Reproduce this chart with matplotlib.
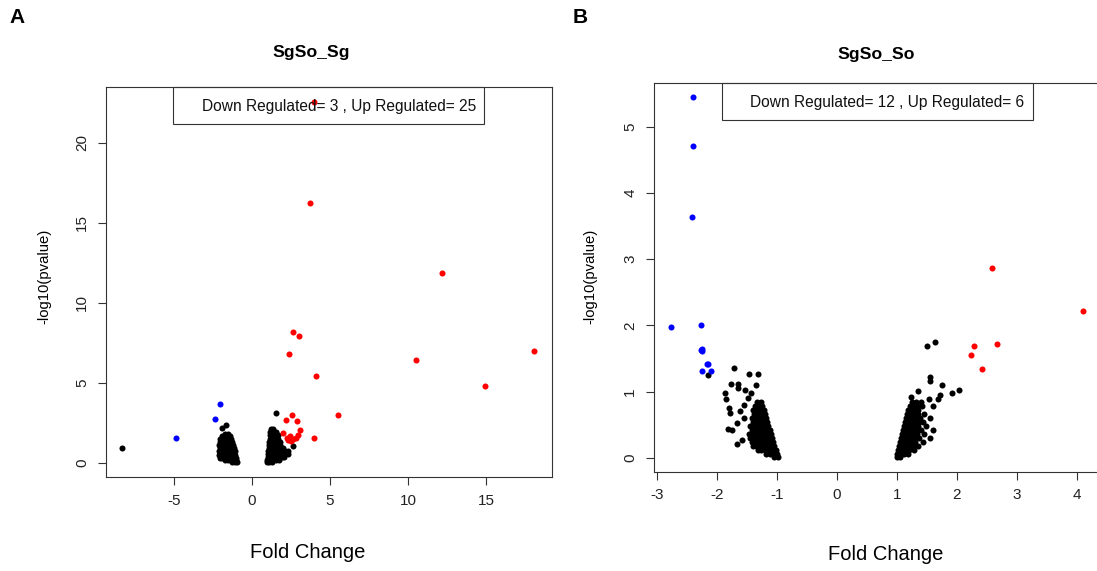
import matplotlib
matplotlib.use("Agg")
import matplotlib.pyplot as plt
from matplotlib.patches import Rectangle

plt.rcParams['font.family'] = ['Liberation Sans', 'DejaVu Sans']
plt.rcParams['axes.unicode_minus'] = False

# ---------------- Panel A data (SgSo_Sg) ----------------
a_title = "SgSo_Sg"
a_legend = "Down Regulated= 3 , Up Regulated= 25"
a_xticks = [-5, 0, 5, 10, 15]
a_yticks = [0, 5, 10, 15, 20]

# black (not significant) points, grouped in rows: (y, [x values])
a_black_left_rows = [
    (0.02, [-0.96, -1.12, -1.28]),
    (0.15, [-1.00, -1.18, -1.36, -1.54, -1.72]),
    (0.32, [-1.04, -1.22, -1.40, -1.58, -1.76, -1.94, -2.08]),
    (0.50, [-1.08, -1.26, -1.44, -1.62, -1.80, -1.98, -2.12]),
    (0.70, [-1.12, -1.30, -1.48, -1.66, -1.84, -2.02, -2.12]),
    (0.90, [-1.18, -1.36, -1.54, -1.72, -1.90, -2.08]),
    (1.10, [-1.24, -1.42, -1.60, -1.78, -1.96, -2.10]),
    (1.30, [-1.30, -1.48, -1.66, -1.84, -2.02]),
    (1.50, [-1.36, -1.54, -1.72, -1.90, -2.02]),
    (1.68, [-1.42, -1.60, -1.78, -1.94]),
    (1.82, [-1.55, -1.72]),
    (2.15, [-1.94]),
    (2.35, [-1.67]),
    (0.90, [-8.31]),
]
a_black_right_rows = [
    (0.03, [0.96, 1.12, 1.28]),
    (0.18, [0.98, 1.16, 1.34, 1.52, 1.70]),
    (0.35, [1.00, 1.18, 1.36, 1.54, 1.72, 1.90, 2.05]),
    (0.52, [1.02, 1.20, 1.38, 1.56, 1.74, 1.92, 2.10, 2.30]),
    (0.70, [1.04, 1.22, 1.40, 1.58, 1.76, 1.94, 2.12, 2.30]),
    (0.90, [1.06, 1.24, 1.42, 1.60, 1.78, 1.96]),
    (1.10, [1.08, 1.26, 1.44, 1.62, 1.80]),
    (1.30, [1.10, 1.28, 1.46, 1.64, 1.80]),
    (1.50, [1.13, 1.31, 1.49, 1.67]),
    (1.70, [1.15, 1.33, 1.51, 1.69]),
    (1.90, [1.18, 1.36, 1.52]),
    (2.10, [1.20, 1.36]),
    (1.04, [2.65]),
    (3.09, [1.52]),
]
a_blue_x = [-4.87, -2.37, -2.05]
a_blue_y = [1.56, 2.71, 3.69]
a_red_x = [3.97, 3.72, 12.16, 2.61, 3.01, 2.35, 10.51, 4.08, 14.94, 18.1,
           5.49, 2.54, 2.18, 2.90, 3.08, 2.01, 2.97, 2.44, 2.22, 2.65,
           2.82, 2.33, 3.97, 2.50, 2.40]
a_red_y = [22.56, 16.21, 11.88, 8.15, 7.90, 6.81, 6.42, 5.44, 4.77, 6.95,
           3.00, 3.00, 2.67, 2.63, 2.04, 1.84, 1.73, 1.67, 1.52, 1.46,
           1.56, 1.42, 1.52, 1.38, 1.50]

# ---------------- Panel B data (SgSo_So) ----------------
b_title = "SgSo_So"
b_legend = "Down Regulated= 12 , Up Regulated= 6"
b_xticks = [-3, -2, -1, 0, 1, 2, 3, 4]
b_yticks = [0, 1, 2, 3, 4, 5]

b_black_left_rows = [
    (0.01, [-0.98, -1.04]),
    (0.06, [-1.00, -1.06, -1.12, -1.18]),
    (0.12, [-1.02, -1.08, -1.14, -1.20, -1.26, -1.32]),
    (0.18, [-1.04, -1.10, -1.16, -1.22, -1.28, -1.34, -1.40]),
    (0.24, [-1.06, -1.12, -1.18, -1.24, -1.30, -1.36, -1.42]),
    (0.30, [-1.08, -1.14, -1.20, -1.26, -1.32, -1.38, -1.44]),
    (0.36, [-1.10, -1.16, -1.22, -1.28, -1.34, -1.40, -1.46]),
    (0.42, [-1.12, -1.18, -1.24, -1.30, -1.36, -1.42]),
    (0.48, [-1.14, -1.20, -1.26, -1.32, -1.38, -1.44]),
    (0.54, [-1.16, -1.22, -1.28, -1.34, -1.40]),
    (0.60, [-1.18, -1.24, -1.30, -1.36, -1.42]),
    (0.66, [-1.20, -1.26, -1.32, -1.38]),
    (0.72, [-1.22, -1.28, -1.34, -1.40]),
    (0.78, [-1.24, -1.30, -1.36]),
    (0.84, [-1.27, -1.33]),
    (1.35, [-1.72]), (1.27, [-1.47, -1.32]), (1.12, [-1.76, -1.64]),
    (1.10, [-1.35]), (0.98, [-1.87, -1.43]), (1.06, [-1.65]),
    (0.88, [-1.85]), (1.02, [-1.53]), (0.75, [-1.79]), (0.68, [-1.78]),
    (0.44, [-1.82]), (0.42, [-1.74]), (0.52, [-1.67]), (0.27, [-1.58]),
    (0.20, [-1.67]), (0.70, [-1.61]), (0.80, [-1.55]), (0.90, [-1.48]),
    (0.60, [-1.55]), (1.25, [-2.15]),
]
b_black_right_rows = [
    (0.01, [1.00, 1.05]),
    (0.06, [1.00, 1.06, 1.12, 1.18]),
    (0.12, [1.02, 1.08, 1.14, 1.20, 1.28]),
    (0.18, [1.04, 1.10, 1.16, 1.22, 1.28, 1.36]),
    (0.24, [1.06, 1.12, 1.18, 1.24, 1.30, 1.44]),
    (0.30, [1.07, 1.13, 1.19, 1.25, 1.31, 1.37, 1.56]),
    (0.36, [1.09, 1.15, 1.21, 1.27, 1.33, 1.45]),
    (0.42, [1.10, 1.16, 1.22, 1.28, 1.34, 1.40, 1.60]),
    (0.48, [1.12, 1.18, 1.24, 1.30, 1.36, 1.48]),
    (0.54, [1.13, 1.19, 1.25, 1.31, 1.37, 1.43]),
    (0.60, [1.15, 1.21, 1.27, 1.33, 1.39, 1.55]),
    (0.66, [1.17, 1.23, 1.29, 1.35, 1.45]),
    (0.72, [1.18, 1.24, 1.30, 1.36]),
    (0.78, [1.22, 1.28, 1.34, 1.42, 1.61]),
    (0.84, [1.25, 1.32, 1.40]),
    (0.88, [1.53, 1.69]), (0.92, [1.24]), (1.01, [1.36]),
    (1.16, [1.56]), (1.22, [1.55]), (1.10, [1.75]), (0.95, [1.72]),
    (0.97, [1.92]), (1.02, [2.03]), (1.69, [1.51]), (1.75, [1.63]),
]
b_blue_x = [-2.39, -2.39, -2.42, -2.77, -2.27, -2.25, -2.24, -2.15, -2.24, -2.09, -2.16, -2.26]
b_blue_y = [5.45, 4.71, 3.64, 1.97, 2.00, 1.64, 1.61, 1.41, 1.31, 1.31, 1.42, 1.63]
b_red_x = [2.59, 4.11, 2.29, 2.67, 2.24, 2.42]
b_red_y = [2.86, 2.21, 1.68, 1.71, 1.55, 1.34]

# ---------------- figure ----------------
W, H = 1097, 571
fig = plt.figure(figsize=(W / 100, H / 100), dpi=100)
EDGE = '#333333'
MS = 19


def px(x, y):
    return x / W, 1 - y / H


def expand(rows):
    xs = [x for y, row in rows for x in row]
    ys = [y for y, row in rows for x in row]
    return xs, ys


def style(ax, xticks, yticks):
    for s in ax.spines.values():
        s.set_color(EDGE)
        s.set_linewidth(0.8)
    ax.set_xticks(xticks)
    ax.set_yticks(yticks)
    ax.tick_params(direction='out', length=6, width=0.8, color=EDGE,
                   labelsize=11, labelcolor='#222222')
    ax.tick_params(axis='x', pad=6)
    ax.tick_params(axis='y', pad=6)
    for lbl in ax.get_yticklabels():
        lbl.set_rotation(90)
        lbl.set_va('center')
        lbl.set_ha('right')


def panel(rect, xlim, ylim, left_rows, right_rows, bx, by, rx, ry, xticks, yticks):
    ax = fig.add_axes(rect)
    ax.set_xlim(*xlim)
    ax.set_ylim(*ylim)
    for rows in (left_rows, right_rows):
        xs, ys = expand(rows)
        ax.scatter(xs, ys, s=MS, c='black', linewidths=0, zorder=2, clip_on=False)
    ax.scatter(bx, by, s=MS, c='#0000FF', linewidths=0, zorder=3, clip_on=False)
    ax.scatter(rx, ry, s=MS, c='#FF0000', linewidths=0, zorder=3, clip_on=False)
    style(ax, xticks, yticks)
    return ax


# Panel A axes: pixel box 106..552 x 87..477
axA = panel([106 / W, 1 - 477 / H, 446 / W, 390 / H],
            ((106 - 252) / 15.6, (552 - 252) / 15.6),
            ((462.7 - 477) / 16.0, (462.7 - 87) / 16.0),
            a_black_left_rows, a_black_right_rows,
            a_blue_x, a_blue_y, a_red_x, a_red_y, a_xticks, a_yticks)

# Panel B axes: pixel box 654..1099 x 82.7..471.7
axB = panel([654 / W, 1 - 471.7 / H, 445 / W, 389 / H],
            ((654 - 836.7) / 60.0, (1099 - 836.7) / 60.0),
            ((457.7 - 471.7) / 66.2, (457.7 - 82.7) / 66.2),
            b_black_left_rows, b_black_right_rows,
            b_blue_x, b_blue_y, b_red_x, b_red_y, b_xticks, b_yticks)

# legend boxes (R-style topright legend without symbols, transparent)
for (x0, x1, y0, y1, tx, ty, txt) in [
        (173.3, 484.3, 87, 124.3, 201.7, 106.5, a_legend),
        (721.7, 1032.7, 82.7, 120, 750, 102, b_legend)]:
    fx0, fy1 = px(x0, y1)
    fx1, fy0 = px(x1, y0)
    fig.patches.append(Rectangle((fx0, fy1), fx1 - fx0, fy0 - fy1,
                                 transform=fig.transFigure, fill=False,
                                 edgecolor=EDGE, lw=0.8, zorder=1))
    tx_, ty_ = px(tx, ty)
    fig.text(tx_, ty_, txt, ha='left', va='center', fontsize=11.2, color='#111111', zorder=1)

# titles, panel letters, axis labels
fig.text(*px(9, 8), "A", ha='left', va='top', fontsize=15, fontweight='bold')
fig.text(*px(573, 8), "B", ha='left', va='top', fontsize=15, fontweight='bold')
fig.text(*px(311.5, 52), a_title, ha='center', va='center', fontsize=12.6, fontweight='bold')
fig.text(*px(876, 54), b_title, ha='center', va='center', fontsize=12.6, fontweight='bold')
fig.text(*px(308, 553), "Fold Change", ha='center', va='center', fontsize=14.5)
fig.text(*px(886, 555), "Fold Change", ha='center', va='center', fontsize=14.5)
fig.text(*px(44, 276), "-log10(pvalue)", ha='center', va='center', rotation=90, fontsize=10.7)
fig.text(*px(590, 276), "-log10(pvalue)", ha='center', va='center', rotation=90, fontsize=10.7)

fig.savefig("out.png", dpi=100, facecolor='white')
